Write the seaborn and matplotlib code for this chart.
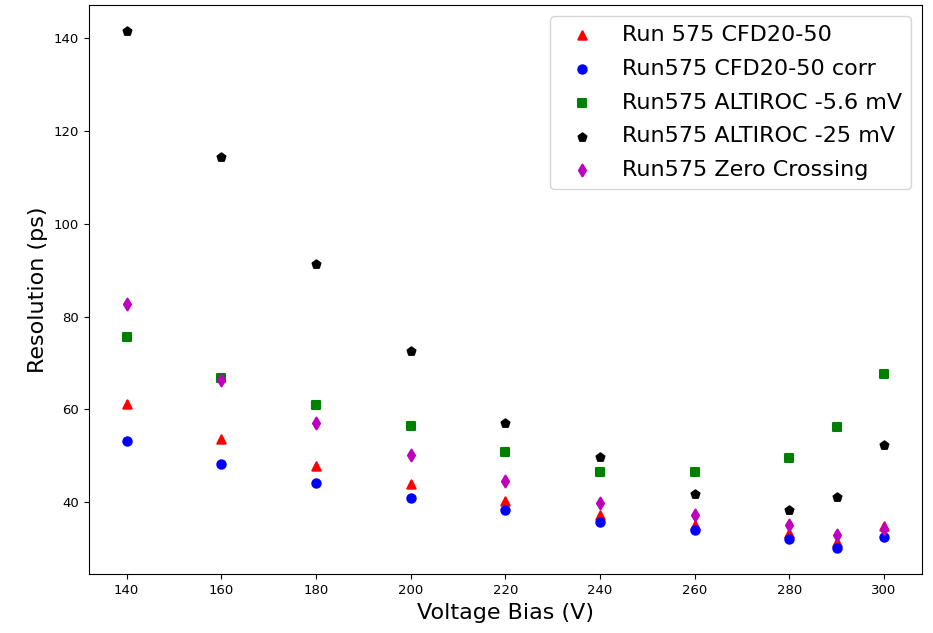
import matplotlib
matplotlib.use("Agg")
import matplotlib.pyplot as plt
import seaborn as sns
import pandas as pd

# Bias voltages (V)
bias = [140, 160, 180, 200, 220, 240, 260, 280, 290, 300]

# Time resolution (ps) for each method
cfd = [61.2, 53.7, 47.8, 43.8, 40.2, 37.3, 35.0, 33.4, 31.4, 34.8]
cfd_corr = [53.2, 48.3, 44.2, 40.9, 38.3, 35.8, 33.9, 32.0, 30.0, 32.5]
altiroc_5p6 = [75.5, 66.8, 60.9, 56.4, 50.9, 46.5, 46.5, 49.4, 56.1, 67.7]
altiroc_25 = [141.6, 114.5, 91.3, 72.6, 57.1, 49.8, 41.7, 38.2, 41.1, 52.3]
zero_cross = [82.8, 66.3, 57.1, 50.1, 44.5, 39.9, 37.2, 35.0, 32.8, 34.3]

labels = ["Run 575 CFD20-50", "Run575 CFD20-50 corr", "Run575 ALTIROC -5.6 mV",
          "Run575 ALTIROC -25 mV", "Run575 Zero Crossing"]
colors = ["r", "b", "g", "k", "m"]
markers = ["^", "o", "s", "p", "d"]
series = [cfd, cfd_corr, altiroc_5p6, altiroc_25, zero_cross]

fig = plt.figure(figsize=(9.33, 6.33), dpi=100)
ax = fig.add_axes([0.0951, 0.0927, 0.8928, 0.8993])

for vals, lab, col, mk in zip(series, labels, colors, markers):
    df = pd.DataFrame({"bias": bias, "res": vals})
    sns.scatterplot(data=df, x="bias", y="res", ax=ax, color=col, marker=mk,
                    s=36, edgecolor="face", linewidth=1.5, label=lab)

ax.set_xticks([140, 160, 180, 200, 220, 240, 260, 280, 300])
ax.tick_params(labelsize=9.5)
ax.set_xlabel("Voltage Bias (V)", fontsize=16)
ax.set_ylabel("Resolution (ps)", fontsize=16)
ax.legend(loc="upper right", fontsize=16, labelspacing=0.62)

fig.savefig("out.png", dpi=100)
